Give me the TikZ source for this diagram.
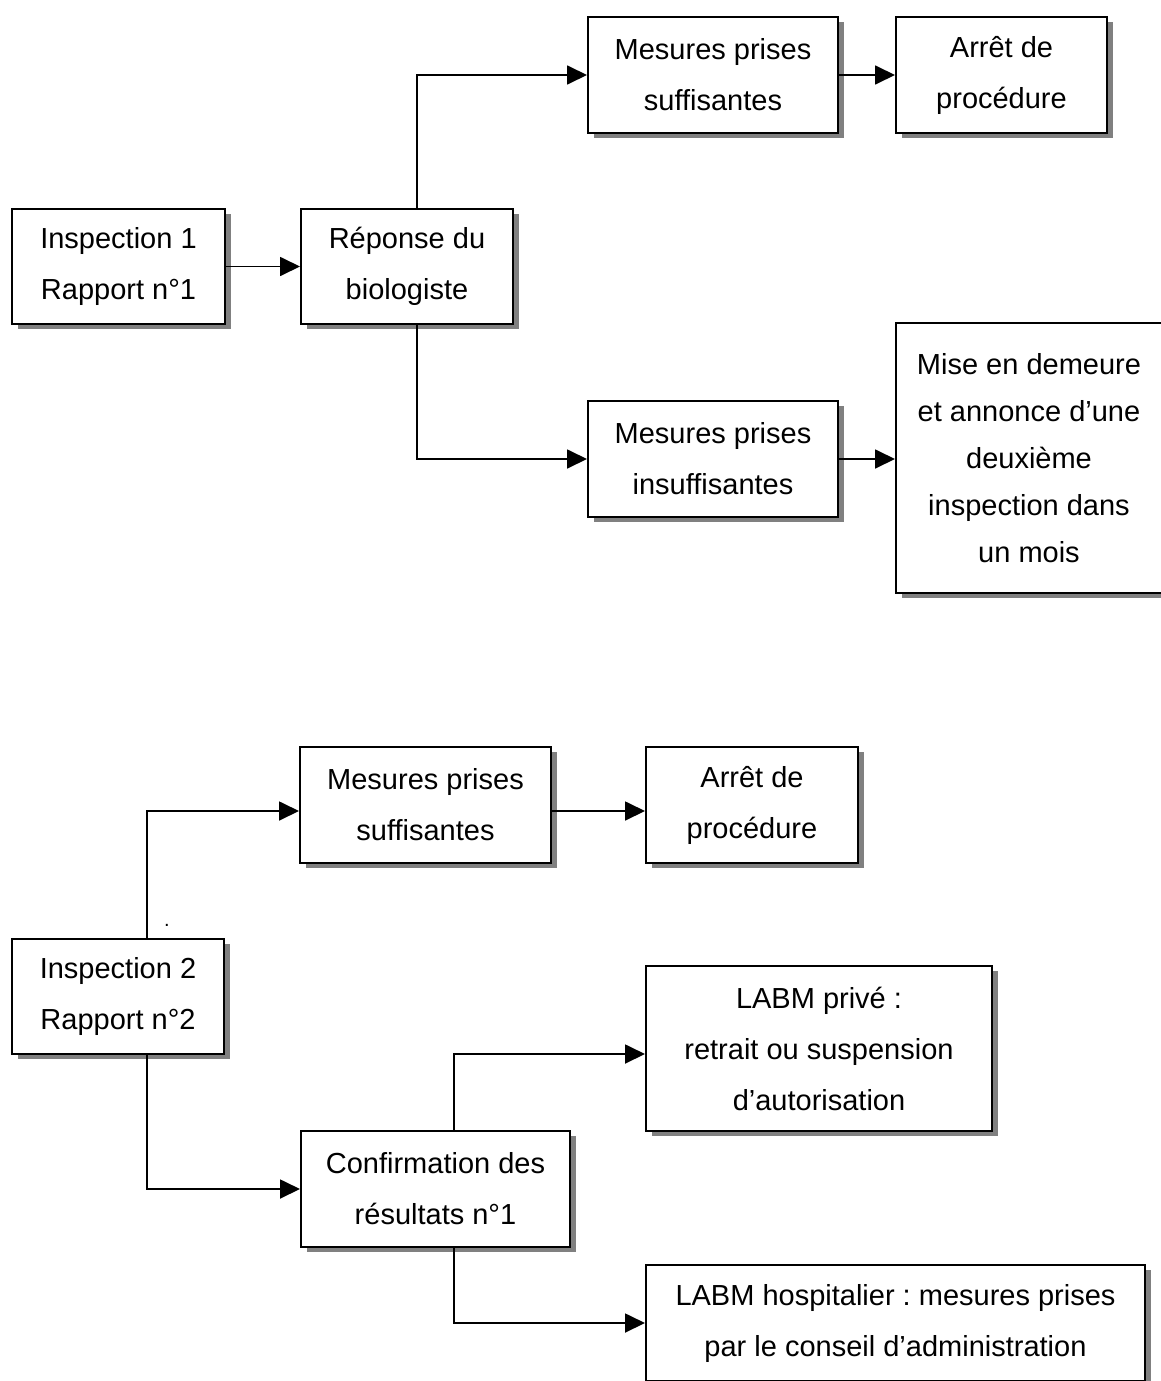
\documentclass[tikz,border=0pt]{standalone}
\usepackage{fontspec}
\setmainfont{Liberation Sans}
\usetikzlibrary{arrows.meta,shadows,calc}
\frenchspacing
\tikzset{
  boxnode/.style={draw=black, line width=1pt, fill=white, inner sep=0pt, align=center,
    font=\fontsize{14.5}{25.5}\selectfont,
    drop shadow={shadow xshift=3pt, shadow yshift=-2.7pt, fill=black!50, opacity=1}},
  arr/.style={line width=0.9pt, -{Triangle[length=10pt,width=9.5pt]}},
}
\begin{document}
\begin{tikzpicture}[x=0.5pt,y=-0.5pt]
\useasboundingbox (0,0) rectangle (1161,1381);
\clip (0,0) rectangle (1161,1381);
% first part
\node[boxnode, minimum width=106.5pt, minimum height=57.5pt] (i1) at (118.5,266.5) {Inspection 1\\Rapport n°1};
\node[boxnode, minimum width=106pt, minimum height=57.5pt] (rep) at (407,266.5) {Réponse du\\biologiste};
\node[boxnode, minimum width=125pt, minimum height=58pt] (ms1) at (713,75) {Mesures prises\\suffisantes};
\node[boxnode, minimum width=105.5pt, minimum height=58pt] (ar1) at (1001.5,75) {Arrêt de\\procédure};
\node[boxnode, minimum width=125pt, minimum height=58pt] (mi) at (713,459) {Mesures prises\\insuffisantes};
\node[boxnode, minimum width=133pt, minimum height=135pt, font=\fontsize{14.5}{23.5}\selectfont] (md) at (1029,458) {Mise en demeure\\et annonce d’une\\deuxième\\inspection dans\\un mois};
\coordinate (rt) at (417,209);
\coordinate (rb) at (417,324);
\draw[arr] (i1) -- (rep);
\draw[arr] (rt) |- (ms1.west);
\draw[arr] (rb) |- (mi.west);
\draw[arr] (ms1) -- (ar1);
\draw[arr] (mi.east) -- (mi.east -| md.west);
% second part
\node[boxnode, minimum width=125.5pt, minimum height=58pt] (ms2) at (425.5,805) {Mesures prises\\suffisantes};
\node[boxnode, minimum width=106pt, minimum height=58pt] (ar2) at (752,805) {Arrêt de\\procédure};
\node[boxnode, minimum width=106pt, minimum height=57.5pt] (i2) at (118,996.5) {Inspection 2\\Rapport n°2};
\node[boxnode, minimum width=173pt, minimum height=82.5pt] (lp) at (819,1048.5) {LABM privé :\\retrait ou suspension\\d’autorisation};
\node[boxnode, minimum width=134.5pt, minimum height=58pt] (cf) at (435.5,1189) {Confirmation des\\résultats n°1};
\node[boxnode, minimum width=249.5pt, minimum height=58pt] (lh) at (895.5,1323) {LABM hospitalier : mesures prises\\par le conseil d’administration};
\node[font=\fontsize{10}{10}\selectfont, inner sep=0pt] (dot) at (167,925) {.};
\coordinate (it) at (147,939);
\coordinate (ib) at (147,1054);
\coordinate (ct) at (454,1131);
\coordinate (cb) at (454,1247);
\draw[arr] (it) |- ($(ms2.west)+(0,6)$);
\draw[arr] ($(ms2.east)+(0,6)$) -- ($(ar2.west)+(0,6)$);
\draw[arr] (ib) |- (cf.west);
\draw[arr] (ct) |- ($(lp.west)+(0,5.5)$);
\draw[arr] (cb) |- (lh.west);
\end{tikzpicture}
\end{document}
